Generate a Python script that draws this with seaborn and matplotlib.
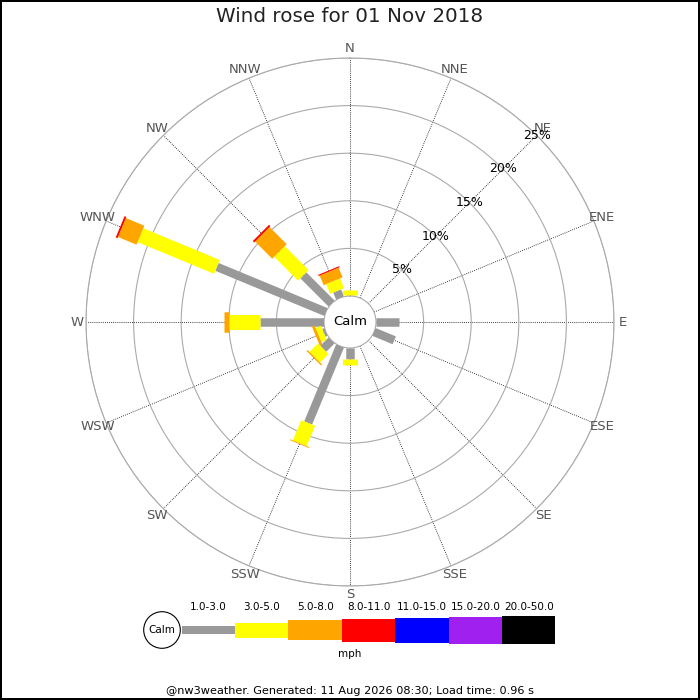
import numpy as np
import matplotlib
matplotlib.use('Agg')
import matplotlib.pyplot as plt
from matplotlib.patches import Circle
import seaborn as sns

# wind directions, clockwise from north
directions = ['N', 'NNE', 'NE', 'ENE', 'E', 'ESE', 'SE', 'SSE',
              'S', 'SSW', 'SW', 'WSW', 'W', 'WNW', 'NW', 'NNW']

# percentage of the day in each speed band (mph), per direction
pct_1_3 = [0.1, 0, 0, 0, 2.4, 2.3, 0, 0, 1.15, 8.75, 1.25, 0.25, 6.7, 12.4, 4.2, 0.8]
pct_3_5 = [0.5, 0, 0, 0, 0, 0, 0, 0, 0.65, 2.3, 1.25, 0.6, 3.3, 8.7, 3.55, 1.1]
pct_5_8 = [0.08, 0, 0, 0, 0, 0, 0, 0, 0, 0.1, 0.15, 0.3, 0.5, 2.1, 2.55, 1.1]
pct_8_11 = [0, 0, 0, 0, 0, 0, 0, 0, 0, 0, 0, 0, 0, 0.2, 0.2, 0.12]
pct_11_15 = [0, 0, 0, 0, 0, 0, 0, 0, 0, 0, 0, 0, 0, 0, 0, 0]
pct_15_20 = [0, 0, 0, 0, 0, 0, 0, 0, 0, 0, 0, 0, 0, 0, 0, 0]
pct_20_50 = [0, 0, 0, 0, 0, 0, 0, 0, 0, 0, 0, 0, 0, 0, 0, 0]

band_labels = ['1.0-3.0', '3.0-5.0', '5.0-8.0', '8.0-11.0', '11.0-15.0', '15.0-20.0', '20.0-50.0']
band_colours = ['#999999', '#ffff00', '#ffa500', '#ff0000', '#0000ff', '#a020f0', '#000000']
band_widths_px = [8.5, 15, 20.5, 23, 25, 27, 28.5]

ring_pcts = [5, 10, 15, 20, 25]

title = 'Wind rose for 01 Nov 2018'
footer = '@nw3weather. Generated: 11 Aug 2026 08:30; Load time: 0.96 s'

sns.set_theme(style='white')
plt.rcParams['font.family'] = ['DejaVu Sans']

PT = 0.72  # points per pixel at dpi 100
bands = [pct_1_3, pct_3_5, pct_5_8, pct_8_11, pct_11_15, pct_15_20, pct_20_50]

fig = plt.figure(figsize=(7, 7), dpi=100, linewidth=1.5, edgecolor='black')
fig.patch.set_facecolor('white')

# polar rose: centre at (350, 322) px, outer ring radius 264 px
ax = fig.add_axes([86 / 700, 114 / 700, 528 / 700, 528 / 700], projection='polar')
ax.set_theta_zero_location('N')
ax.set_theta_direction(-1)
ax.set_ylim(0, 25)
ax.set_rorigin(-26 / 9.52)
ax.set_facecolor('white')

theta = np.deg2rad(np.arange(len(directions)) * 22.5)
ax.set_thetagrids(np.arange(len(directions)) * 22.5, labels=[''] * len(directions))
ax.set_rgrids(ring_pcts, labels=[''] * len(ring_pcts))
ax.xaxis.grid(True, color='black', linestyle=(0, (1, 1.5)), linewidth=0.6)
ax.yaxis.grid(True, color='#aaaaaa', linestyle='-', linewidth=0.8)
ax.set_axisbelow(True)
ax.spines['polar'].set_color('#aaaaaa')
ax.spines['polar'].set_linewidth(0.8)
if 'inner' in ax.spines:
    ax.spines['inner'].set_color('#aaaaaa')
    ax.spines['inner'].set_linewidth(0.8)
for s in ['start', 'end']:
    if s in ax.spines:
        ax.spines[s].set_visible(False)

# stacked radial bars
for i, th in enumerate(theta):
    base = 0
    for b, vals in enumerate(bands):
        v = vals[i]
        if v <= 0:
            continue
        ax.plot([th, th], [base, base + v], color=band_colours[b],
                linewidth=band_widths_px[b] * PT, solid_capstyle='butt', zorder=3 + b)
        base += v

# direction and percent labels
for th, name in zip(theta, directions):
    ax.text(th, 25 + 9 / 9.52, name, color='#555555', fontsize=9.5,
            ha='center', va='center', clip_on=False)
for p in ring_pcts:
    ax.text(np.pi / 4, p, f'{p}%', color='black', fontsize=9,
            ha='center', va='center', zorder=10)
ax.text(0.5, 0.5, 'Calm', transform=ax.transAxes, ha='center', va='center',
        fontsize=9.5, color='black')

fig.text(0.5, 1 - 17 / 700, title, ha='center', va='center', fontsize=14.3, color='#222222')
fig.text(0.5, 1 - 691 / 700, footer, ha='center', va='center', fontsize=8.15, color='black')

# legend strip in pixel coordinates
lax = fig.add_axes([0, 0, 1, 1], zorder=-1)
lax.set_xlim(0, 700)
lax.set_ylim(700, 0)
lax.axis('off')
seg_w = 53.4
seg_left = 181.6 + seg_w * np.arange(len(band_labels))
heights = np.array(band_widths_px)
lax.bar(seg_left, heights, width=seg_w, bottom=630 - heights / 2, align='edge',
        color=band_colours, linewidth=0)
for x, lab in zip(seg_left, band_labels):
    lax.text(x + seg_w / 2, 607, lab, ha='center', va='center', fontsize=7.5, color='black')
lax.add_patch(Circle((162, 630), 18.3, facecolor='white', edgecolor='black', linewidth=0.8, zorder=5))
lax.text(162, 630, 'Calm', ha='center', va='center', fontsize=7.5, color='black', zorder=6)
lax.text(350, 654, 'mph', ha='center', va='center', fontsize=7.5, color='black')

fig.savefig('out.png', dpi=100, facecolor='white', edgecolor='black')
